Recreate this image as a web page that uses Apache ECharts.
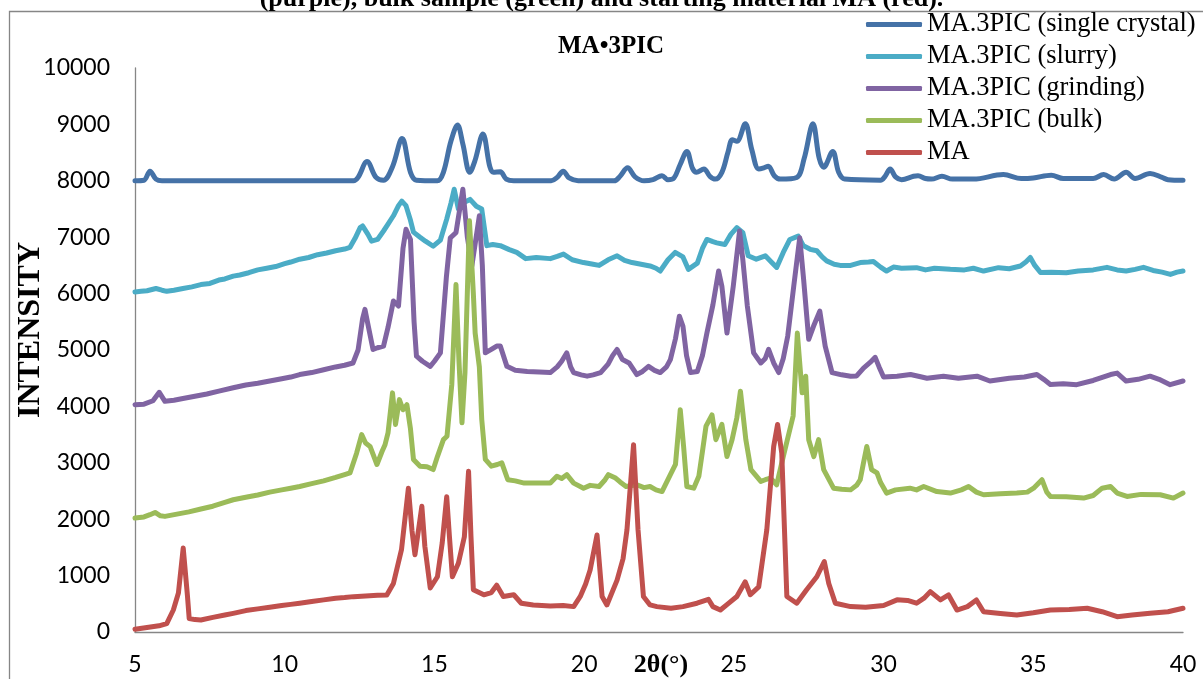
<!DOCTYPE html>
<html>
<head>
<meta charset="utf-8">
<script src="https://cdn.jsdelivr.net/npm/echarts@6/dist/echarts.min.js"></script>
<style>html,body{margin:0;padding:0;background:#fff;}#c{width:1203px;height:679px;}</style>
</head>
<body>
<div id="c"></div>
<script>
const seriesNames = ['MA.3PIC (single crystal)', 'MA.3PIC (slurry)', 'MA.3PIC (grinding)', 'MA.3PIC (bulk)', 'MA'];
const xTicks = [5, 10, 15, 20, 25, 30, 35, 40];
const yTicks = [0, 1000, 2000, 3000, 4000, 5000, 6000, 7000, 8000, 9000, 10000];

const singleCrystal = [[5.0,8000],[5.3,8010],[5.5,8170],[5.7,8030],[5.9,8000],[7,8000],[9,8000],[11,8000],[12.3,8000],[12.45,8060],[12.75,8340],[13.05,8060],[13.3,8010],[13.6,8250],[13.92,8750],[14.2,8150],[14.4,8010],[15.1,8000],[15.3,8150],[15.55,8700],[15.77,8990],[15.95,8650],[16.18,8150],[16.35,8350],[16.62,8830],[16.85,8250],[16.97,8150],[17.2,8160],[17.4,8030],[17.65,8000],[18.9,8000],[19.1,8060],[19.3,8170],[19.5,8050],[19.8,8000],[21.0,8000],[21.2,8080],[21.45,8230],[21.7,8070],[22.0,8000],[22.3,8020],[22.6,8090],[22.8,8020],[23.0,8050],[23.2,8280],[23.43,8520],[23.62,8220],[23.75,8150],[24.0,8210],[24.2,8080],[24.38,8030],[24.6,8150],[24.8,8500],[24.95,8730],[25.1,8700],[25.38,9010],[25.6,8550],[25.83,8210],[26.0,8230],[26.15,8260],[26.35,8090],[26.55,8030],[27.1,8060],[27.35,8400],[27.64,9010],[27.85,8400],[28.0,8240],[28.3,8520],[28.5,8150],[28.7,8030],[29.9,8010],[30.05,8080],[30.22,8210],[30.4,8070],[30.6,8020],[31.0,8080],[31.15,8090],[31.4,8040],[31.6,8030],[31.95,8080],[32.3,8030],[33.0,8030],[34.0,8110],[34.6,8040],[35.0,8050],[35.6,8100],[36.0,8040],[37.0,8040],[37.35,8110],[37.7,8030],[38.1,8150],[38.4,8040],[38.9,8130],[39.3,8060],[39.5,8020],[40.0,8010]];

const slurry = [[5.0,6030],[5.2,6040],[5.4,6050],[5.7,6090],[5.9,6060],[6.06,6040],[6.3,6060],[6.6,6090],[6.9,6120],[7.2,6160],[7.5,6180],[7.8,6240],[8.0,6260],[8.28,6310],[8.5,6330],[8.8,6370],[9.1,6420],[9.4,6450],[9.7,6480],[10.0,6530],[10.2,6560],[10.5,6610],[10.8,6640],[11.1,6690],[11.4,6720],[11.7,6760],[12.0,6790],[12.18,6820],[12.35,6980],[12.52,7170],[12.6,7200],[12.78,7050],[12.9,6930],[13.1,6960],[13.3,7110],[13.45,7230],[13.63,7380],[13.8,7560],[13.91,7640],[14.05,7560],[14.2,7300],[14.3,7090],[14.52,7000],[14.7,6930],[14.96,6840],[15.2,6950],[15.41,7320],[15.55,7600],[15.66,7850],[15.8,7500],[16.0,7620],[16.19,7670],[16.4,7550],[16.58,7500],[16.75,6850],[16.95,6870],[17.2,6850],[17.5,6780],[17.75,6730],[18.05,6620],[18.4,6640],[18.87,6620],[19.1,6660],[19.31,6700],[19.6,6600],[19.98,6550],[20.3,6520],[20.5,6500],[20.8,6600],[21.1,6670],[21.35,6590],[21.6,6550],[21.9,6520],[22.2,6490],[22.4,6450],[22.54,6400],[22.8,6600],[23.04,6730],[23.3,6650],[23.48,6430],[23.78,6540],[23.95,6800],[24.1,6960],[24.3,6920],[24.43,6900],[24.7,6870],[24.9,7050],[25.1,7170],[25.3,7080],[25.48,6670],[25.75,6610],[26.05,6670],[26.25,6560],[26.43,6465],[26.65,6730],[26.87,6960],[27.15,7020],[27.32,6850],[27.55,6785],[27.77,6760],[27.95,6650],[28.1,6580],[28.35,6520],[28.55,6500],[28.9,6500],[29.22,6550],[29.5,6560],[29.66,6570],[29.9,6470],[30.1,6400],[30.33,6470],[30.6,6450],[31.1,6460],[31.4,6420],[31.7,6450],[32.23,6430],[32.7,6420],[33.0,6450],[33.34,6400],[33.84,6460],[34.2,6440],[34.57,6490],[34.75,6560],[34.9,6640],[35.05,6500],[35.24,6375],[35.6,6380],[36.1,6370],[36.5,6400],[37.0,6420],[37.46,6465],[37.8,6420],[38.1,6400],[38.4,6430],[38.68,6465],[39.0,6410],[39.3,6380],[39.58,6340],[39.8,6380],[40.0,6400]];

const grinding = [[5.0,4030],[5.3,4040],[5.6,4100],[5.81,4250],[6.0,4090],[6.3,4110],[6.6,4140],[7.0,4180],[7.4,4220],[7.8,4270],[8.28,4330],[8.7,4380],[9.1,4410],[9.5,4450],[9.9,4490],[10.2,4520],[10.5,4565],[10.9,4600],[11.3,4650],[11.7,4700],[12.0,4730],[12.28,4770],[12.45,5000],[12.6,5550],[12.68,5720],[12.8,5400],[12.95,5010],[13.1,5040],[13.3,5070],[13.45,5400],[13.63,5870],[13.8,5780],[13.95,6800],[14.05,7140],[14.2,6960],[14.32,5500],[14.4,4890],[14.6,4800],[14.86,4710],[15.0,4800],[15.2,4950],[15.4,6300],[15.53,6990],[15.72,7080],[15.95,7850],[16.1,7000],[16.25,6490],[16.5,7380],[16.6,6500],[16.7,4950],[16.9,5010],[17.08,5070],[17.2,5070],[17.42,4710],[17.7,4640],[18.1,4620],[18.5,4610],[18.87,4600],[19.1,4700],[19.25,4800],[19.42,4950],[19.55,4700],[19.65,4600],[19.9,4560],[20.1,4536],[20.3,4560],[20.55,4600],[20.8,4750],[20.95,4900],[21.1,5010],[21.28,4830],[21.5,4770],[21.76,4565],[21.95,4620],[22.15,4710],[22.35,4640],[22.54,4600],[22.75,4700],[22.88,4830],[23.05,5200],[23.18,5600],[23.3,5420],[23.42,4900],[23.55,4600],[23.78,4620],[23.95,4900],[24.1,5300],[24.3,5800],[24.49,6400],[24.6,6130],[24.77,5300],[24.98,6130],[25.19,7110],[25.3,6600],[25.45,5780],[25.66,4950],[25.9,4770],[26.05,4850],[26.16,5010],[26.33,4770],[26.5,4600],[26.65,4850],[26.8,5250],[27.0,6130],[27.2,6990],[27.33,6250],[27.5,5190],[27.66,5420],[27.87,5690],[28.05,5070],[28.28,4600],[28.6,4560],[28.9,4536],[29.1,4540],[29.33,4680],[29.55,4780],[29.72,4870],[29.85,4700],[30.0,4520],[30.45,4536],[30.9,4565],[31.2,4530],[31.45,4500],[32.0,4536],[32.5,4500],[33.12,4536],[33.55,4450],[34.2,4500],[34.7,4520],[35.12,4565],[35.35,4480],[35.57,4390],[36.0,4400],[36.45,4385],[37.0,4460],[37.58,4565],[37.8,4590],[38.1,4450],[38.5,4480],[38.9,4536],[39.2,4480],[39.57,4385],[40.0,4450]];

const bulk = [[5.0,2020],[5.3,2040],[5.5,2080],[5.67,2120],[5.85,2060],[6.0,2050],[6.4,2090],[6.8,2130],[7.2,2180],[7.6,2230],[8.0,2300],[8.28,2345],[8.7,2390],[9.1,2430],[9.5,2480],[9.9,2520],[10.2,2550],[10.5,2580],[10.9,2630],[11.3,2680],[11.7,2740],[12.0,2790],[12.18,2820],[12.4,3170],[12.57,3500],[12.7,3350],[12.85,3290],[13.08,2970],[13.25,3200],[13.35,3320],[13.45,3530],[13.6,4240],[13.7,3680],[13.83,4120],[13.95,3940],[14.08,4030],[14.2,3600],[14.3,3060],[14.52,2940],[14.75,2930],[14.96,2880],[15.1,3110],[15.3,3410],[15.42,3470],[15.58,4390],[15.72,6160],[15.82,4800],[15.92,3710],[16.02,4600],[16.17,7290],[16.3,6000],[16.36,5300],[16.5,4700],[16.58,3770],[16.7,3060],[16.9,2940],[17.1,2970],[17.25,3000],[17.45,2700],[17.7,2680],[18.0,2640],[18.4,2640],[18.87,2640],[19.09,2760],[19.25,2720],[19.42,2790],[19.65,2640],[19.98,2550],[20.2,2600],[20.5,2580],[20.7,2700],[20.81,2790],[21.05,2730],[21.2,2660],[21.4,2580],[21.76,2610],[22.0,2560],[22.2,2580],[22.4,2520],[22.6,2490],[22.88,2790],[23.05,2970],[23.21,3940],[23.32,3300],[23.43,2580],[23.66,2550],[23.83,2760],[23.95,3200],[24.07,3650],[24.27,3850],[24.4,3410],[24.6,3680],[24.77,3110],[24.94,3410],[25.1,3800],[25.22,4270],[25.4,3410],[25.57,2880],[25.9,2670],[26.05,2700],[26.22,2730],[26.43,2610],[26.65,3110],[26.87,3590],[26.98,3830],[27.12,5300],[27.28,4240],[27.4,4535],[27.5,3410],[27.67,3110],[27.83,3410],[28.0,2880],[28.33,2550],[28.6,2530],[28.9,2520],[29.1,2600],[29.22,2700],[29.33,3000],[29.44,3290],[29.6,2880],[29.78,2820],[29.9,2650],[30.1,2463],[30.4,2520],[30.88,2550],[31.1,2520],[31.34,2580],[31.78,2490],[32.23,2463],[32.6,2520],[32.84,2580],[33.1,2480],[33.34,2433],[33.9,2450],[34.45,2463],[34.8,2480],[35.01,2550],[35.29,2700],[35.45,2480],[35.57,2404],[36.1,2400],[36.68,2374],[37.0,2420],[37.3,2550],[37.58,2580],[37.8,2463],[38.13,2404],[38.6,2440],[39.24,2433],[39.68,2374],[40.0,2463]];

const startingMA = [[5.0,50],[5.4,80],[5.8,110],[6.06,150],[6.28,390],[6.45,690],[6.61,1490],[6.75,650],[6.81,240],[7.0,220],[7.2,213],[7.6,260],[8.0,300],[8.28,330],[8.7,380],[9.1,410],[9.5,440],[9.9,470],[10.2,490],[10.5,510],[10.9,540],[11.3,570],[11.7,600],[12.0,610],[12.3,627],[12.7,640],[13.1,650],[13.41,657],[13.63,860],[13.9,1460],[14.13,2550],[14.25,1800],[14.35,1370],[14.58,2230],[14.68,1520],[14.86,780],[15.1,980],[15.26,1580],[15.41,2400],[15.5,1700],[15.6,980],[15.8,1220],[16.0,1690],[16.14,2850],[16.22,1700],[16.3,750],[16.65,660],[16.9,700],[17.08,830],[17.3,630],[17.65,660],[17.9,510],[18.3,480],[18.87,460],[19.3,470],[19.65,450],[19.87,630],[20.05,850],[20.2,1100],[20.43,1720],[20.6,630],[20.76,480],[21.1,920],[21.3,1300],[21.43,1810],[21.65,3320],[21.8,1810],[21.98,630],[22.2,480],[22.43,450],[22.9,420],[23.3,450],[23.77,510],[24.15,580],[24.3,450],[24.55,390],[24.8,500],[25.1,630],[25.38,890],[25.55,660],[25.83,800],[26.1,1810],[26.33,3290],[26.46,3680],[26.6,3170],[26.77,630],[27.1,510],[27.43,750],[27.77,980],[28.02,1250],[28.17,860],[28.39,510],[28.9,450],[29.4,440],[30.0,470],[30.45,570],[30.8,560],[31.1,510],[31.35,600],[31.56,716],[31.9,570],[32.17,657],[32.45,390],[32.8,450],[33.1,568],[33.34,360],[33.9,330],[34.45,302],[35.0,340],[35.57,390],[36.2,400],[36.8,420],[37.3,360],[37.8,272],[38.3,300],[38.9,332],[39.5,360],[40.0,420]];

const seriesData = [singleCrystal, slurry, grinding, bulk, startingMA];
const colors = ['#4572A7', '#4BACC6', '#8064A2', '#9BBB59', '#C0504D'];

const chart = echarts.init(document.getElementById('c'), null, {renderer: 'canvas'});
const serif = '"Liberation Serif", "Times New Roman", serif';
const sans = 'Lato, "Liberation Sans", sans-serif';

chart.setOption({
  animation: false,
  backgroundColor: '#ffffff',
  color: colors,
  grid: {left: 135, right: 20, top: 68, bottom: 47, containLabel: false},
  legend: {
    data: seriesNames,
    orient: 'vertical',
    left: 866, top: 11,
    padding: 0,
    itemGap: 5,
    itemWidth: 56, itemHeight: 5,
    icon: 'roundRect',
    textStyle: {fontFamily: serif, fontSize: 26.5, color: '#000', lineHeight: 26}
  },
  xAxis: {
    type: 'value', min: xTicks[0], max: xTicks[xTicks.length - 1], interval: 5,
    axisLine: {show: true, lineStyle: {color: '#868686', width: 1.3}},
    axisTick: {show: false},
    splitLine: {show: false},
    axisLabel: {fontFamily: sans, fontSize: 23, color: '#000', margin: 21, formatter: v => String(v)}
  },
  yAxis: {
    type: 'value', min: yTicks[0], max: yTicks[yTicks.length - 1], interval: 1000,
    axisLine: {show: true, lineStyle: {color: '#868686', width: 1.3}},
    axisTick: {show: false},
    splitLine: {show: false},
    axisLabel: {fontFamily: sans, fontSize: 23, color: '#000', margin: 25, formatter: v => String(v)}
  },
  graphic: [
    {type: 'rect', silent: true, z: -10, shape: {x: 9.5, y: 11.5, width: 1400, height: 900},
     style: {fill: 'none', stroke: '#868686', lineWidth: 1.3}},
    {type: 'text', left: 'center', top: -14, z: 10,
     style: {text: '(purple), bulk sample (green) and starting material MA (red).', font: 'bold 26px ' + serif, fill: '#000'}},
    {type: 'text', x: 611, y: 47, z: 10,
     style: {text: 'MA\u20223PIC', font: 'bold 25px ' + serif, fill: '#000', textAlign: 'center', textVerticalAlign: 'middle'}},
    {type: 'text', x: 661, y: 665, z: 10,
     style: {text: '2\u03b8(\u00b0)', font: 'bold 26px ' + serif, fill: '#000', textAlign: 'center', textVerticalAlign: 'middle'}},
    {type: 'text', x: 31, y: 330, rotation: Math.PI / 2, z: 10,
     style: {text: 'INTENSITY', font: 'bold 32px ' + serif, fill: '#000', textAlign: 'center', textVerticalAlign: 'middle'}}
  ],
  series: seriesNames.map((name, i) => ({
    name: name,
    type: 'line',
    data: seriesData[i],
    showSymbol: false,
    symbol: 'none',
    smooth: i === 0 ? 0.35 : false,
    lineStyle: {width: 5, color: colors[i], cap: 'round', join: 'round'},
    itemStyle: {color: colors[i]},
    emphasis: {disabled: true}
  }))
});
</script>
</body>
</html>
